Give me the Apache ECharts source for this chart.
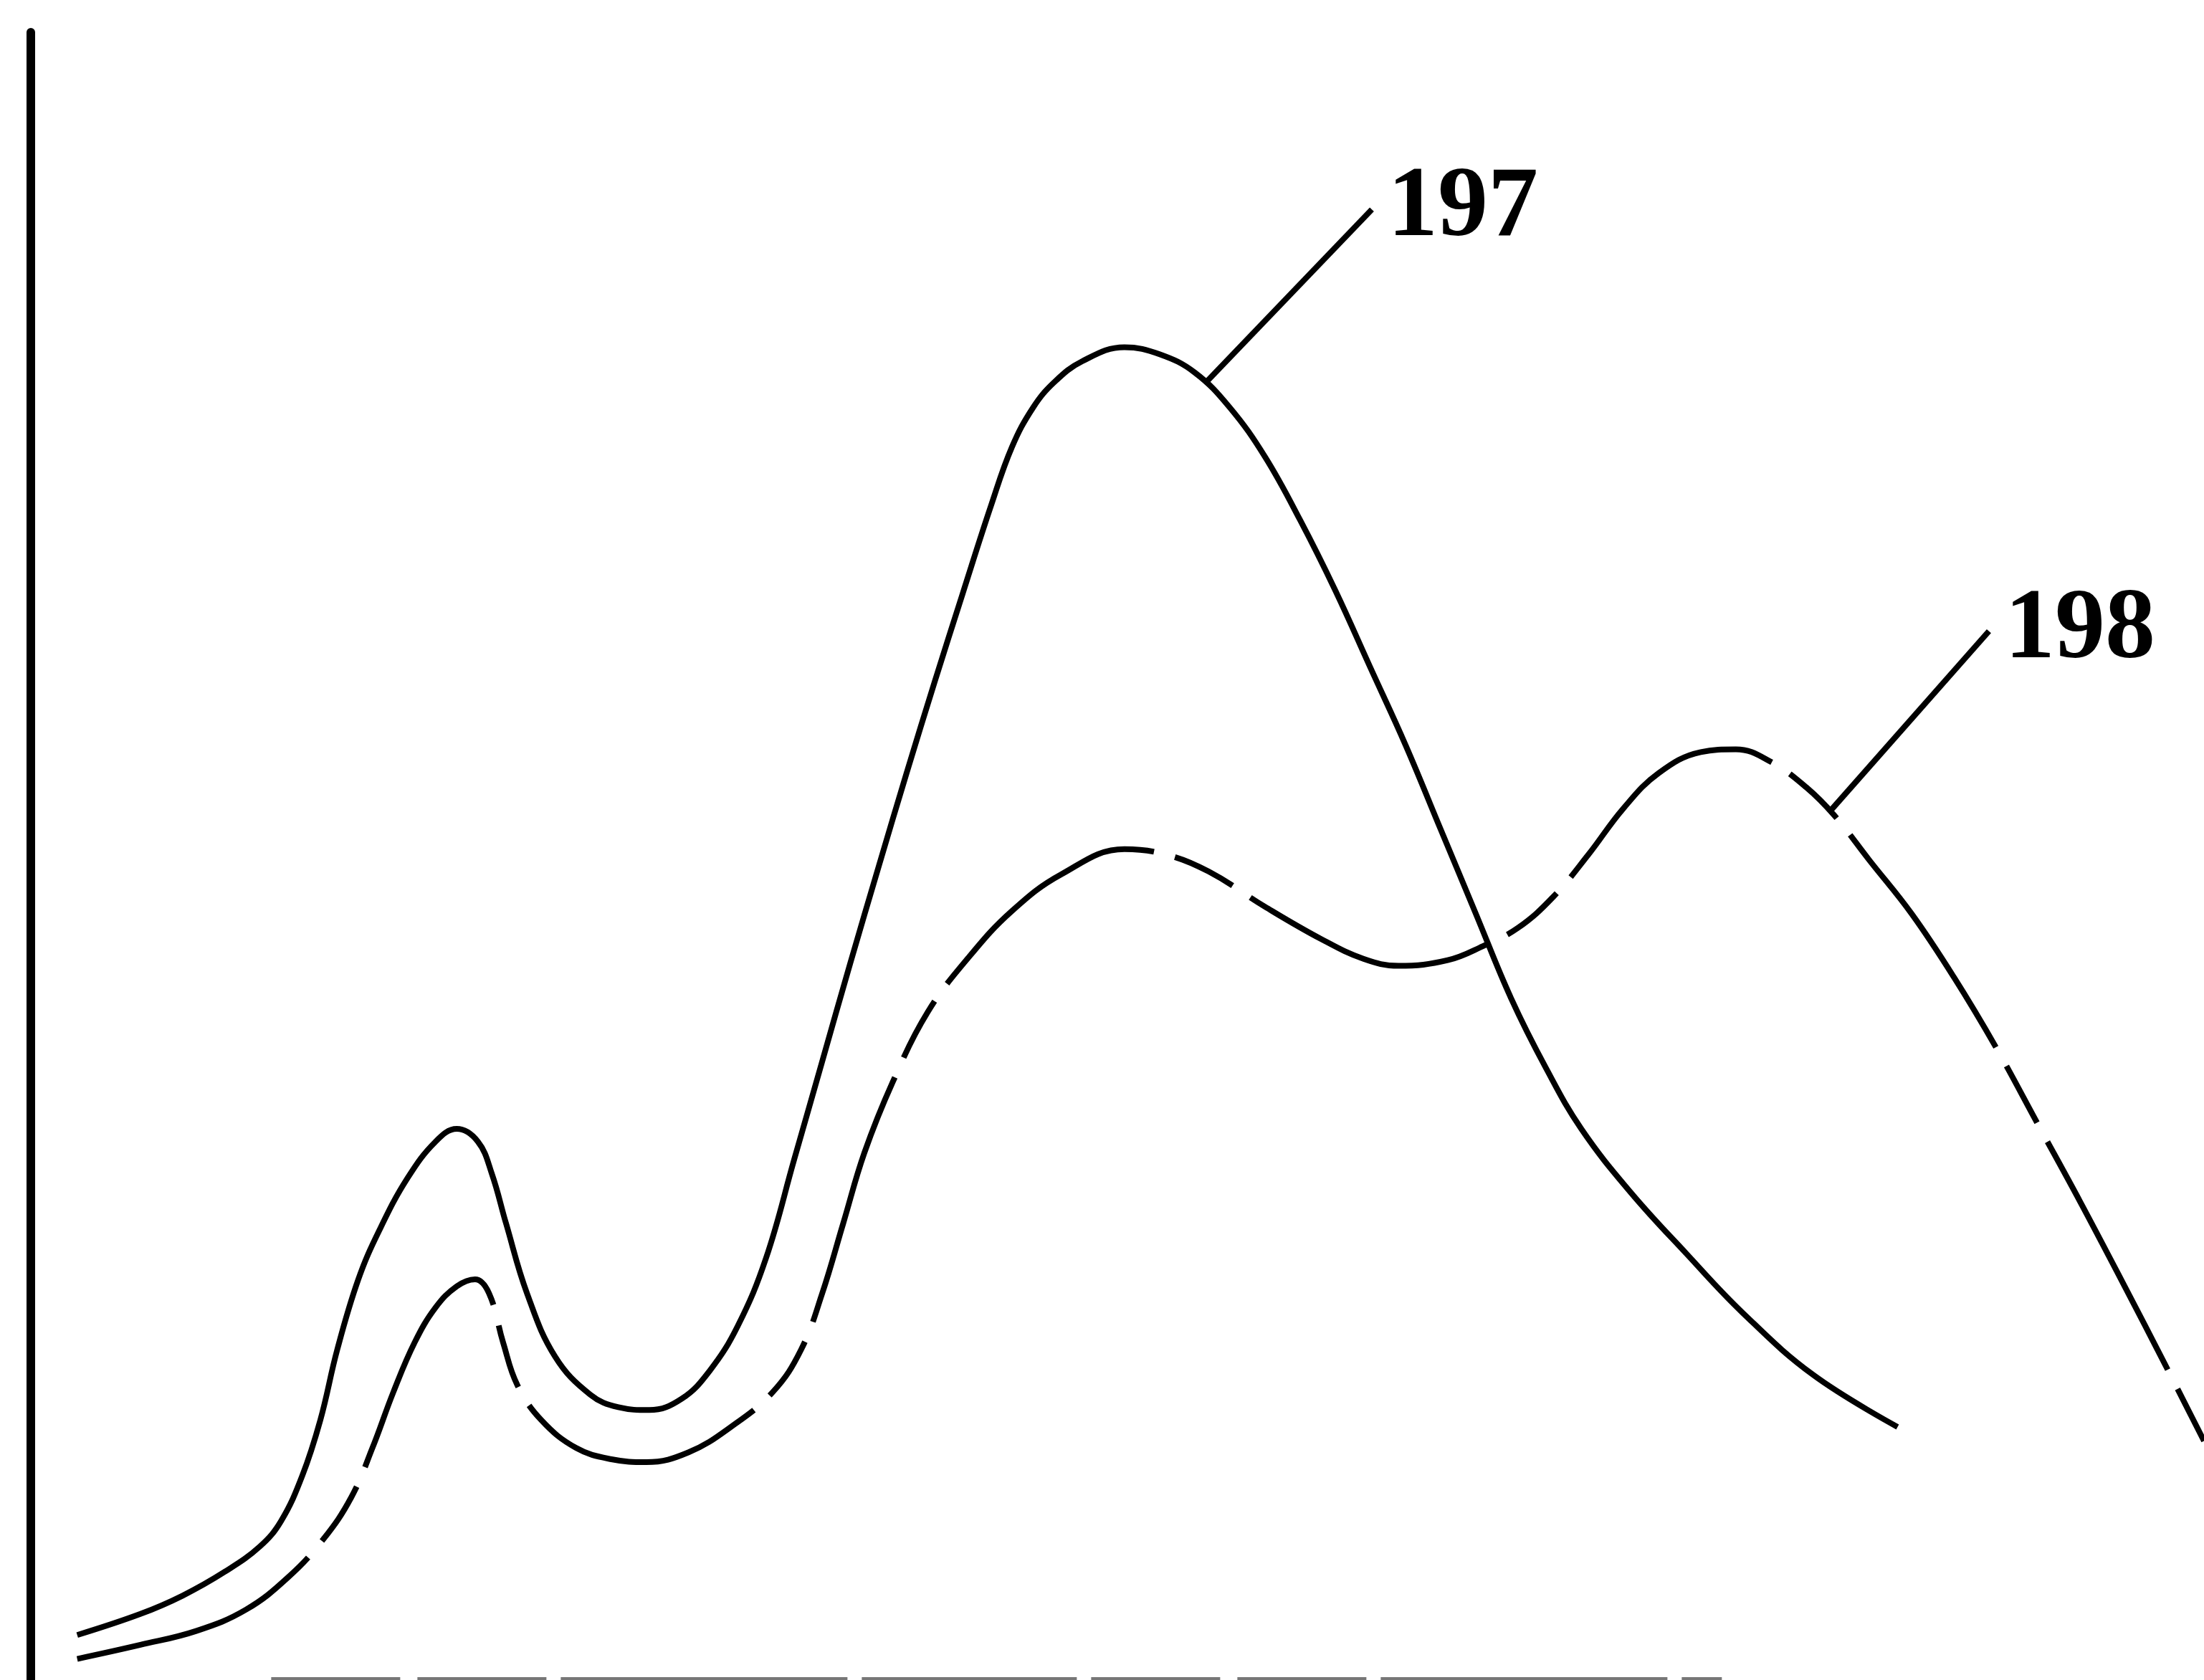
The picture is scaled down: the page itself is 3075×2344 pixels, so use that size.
<!DOCTYPE html>
<html>
<head>
<meta charset="utf-8">
<title>197 / 198</title>
<script src="https://cdn.jsdelivr.net/npm/echarts@6/dist/echarts.min.js"></script>
<style>
html,body{margin:0;padding:0;background:#fff;}
#main{width:3075px;height:2344px;}
</style>
</head>
<body>
<div id="main"></div>
<script>
//曲线数据
var curve197=[[33,32],[78,47],[108,60],[138,77],[163,95],[178,113],[193,145],[206,185],[218,235],[233,285],
	[248,320],[268,357],[288,383],[303,392],[318,383],[328,360],[338,325],[353,275],[373,230],[398,203],
	[418,194],[440,192],[463,200],[483,220],[503,252],[523,300],[543,370],[563,440],[583,510],[603,578],
	[623,645],[643,710],[663,773],[683,835],[698,877],[713,905],[728,923],[748,938],[778,948],[803,943],
	[828,930],[853,905],[878,870],[903,825],[928,775],[953,720],[978,665],[1003,605],[1028,545],[1053,485],
	[1078,435],[1103,392],[1138,347],[1178,303],[1218,261],[1268,217],[1328,180]];
var curve198=[[33,15],[78,25],[118,35],[153,50],[183,73],[208,100],[228,130],[243,165],[258,205],[273,240],
	[288,265],[303,280],[316,285],[326,275],[336,240],[346,210],[363,185],[388,165],[413,157],[438,155],
	[468,162],[498,180],[528,205],[548,235],[563,275],[578,325],[593,375],[613,425],[638,475],[668,515],
	[698,547],[733,573],[778,591],[808,587],[838,575],[878,550],[918,527],[948,513],[973,508],[1008,512],
	[1033,522],[1058,535],[1083,557],[1108,587],[1133,620],[1158,645],[1188,660],[1213,662],[1238,653],
	[1263,635],[1283,615],[1308,583],[1338,545],[1368,500],[1398,450],[1428,395],[1458,340],[1488,283],
	[1518,225],[1546,170]];
//引线
var leader197=[[836,923],[954,1046]];
var leader198=[[1280,618],[1393,746]];
var labelNames=['197','198'];
//底部残缺横线
var baseLine=[[171,1],[1203,1]];

var chart=null,chartOption=null;
function loadChart(){
	chart=echarts.init(document.getElementById('main'));
	var labelStyle={
		show:true,
		distance:22,
		color:'#000',
		fontFamily:'Liberation Serif',
		fontWeight:'bold',
		fontSize:140
	};
	chartOption={
		animation:false,
		backgroundColor:'#fff',
		grid:{left:43,right:0,top:45,bottom:0},
		xAxis:{
			type:'value',min:0,max:1546,show:false
		},
		yAxis:{
			type:'value',min:0,max:1172,
			axisLine:{show:true,onZero:false,lineStyle:{color:'#000',width:12}},
			axisTick:{show:false},
			axisLabel:{show:false},
			splitLine:{show:false}
		},
		series:[{
			name:'197',
			type:'line',
			data:curve197,
			smooth:0.4,
			symbol:'none',
			clip:false,
			lineStyle:{color:'#000',width:8}
		},{
			name:'198',
			type:'line',
			data:curve198,
			smooth:0.4,
			symbol:'none',
			clip:false,
			lineStyle:{color:'#000',width:8,type:[360,30,90,30]}
		},{
			name:'leader197',
			type:'line',
			data:leader197,
			symbol:'none',
			lineStyle:{color:'#000',width:8},
			endLabel:Object.assign({},labelStyle,{formatter:labelNames[0]})
		},{
			name:'leader198',
			type:'line',
			data:leader198,
			symbol:'none',
			lineStyle:{color:'#000',width:8},
			endLabel:Object.assign({},labelStyle,{formatter:labelNames[1]})
		},{
			name:'base',
			type:'line',
			data:baseLine,
			symbol:'none',
			clip:false,
			lineStyle:{color:'#777',width:4,type:[180,24,180,20,400,20,300,20]}
		}]
	};
	chart.setOption(chartOption);
}
loadChart();
</script>
</body>
</html>
